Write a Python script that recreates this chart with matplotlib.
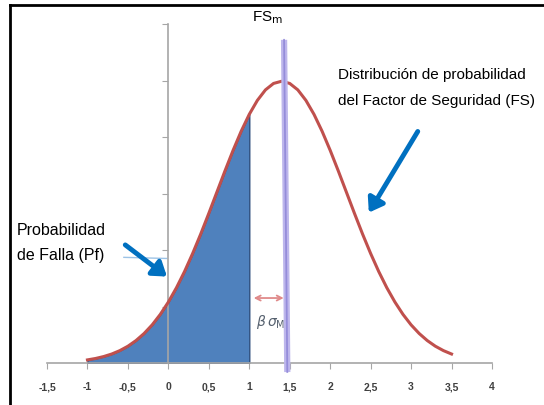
import numpy as np
import matplotlib
matplotlib.use("Agg")
import matplotlib.pyplot as plt
from matplotlib.lines import Line2D

plt.rcParams['font.family'] = ['Liberation Sans', 'DejaVu Sans']

# curva de distribucion del FS
x_fs = [-1.0, -0.9, -0.8, -0.7, -0.6, -0.5, -0.4, -0.3, -0.2, -0.1,
        0.0, 0.1, 0.2, 0.3, 0.4, 0.5, 0.6, 0.7, 0.8, 0.9,
        1.0, 1.1, 1.2, 1.3, 1.4, 1.5, 1.6, 1.7, 1.8, 1.9,
        2.0, 2.1, 2.2, 2.3, 2.4, 2.5, 2.6, 2.7, 2.8, 2.9,
        3.0, 3.1, 3.2, 3.3, 3.4, 3.5]
p_fs = [0.0055, 0.0080, 0.0114, 0.0159, 0.0219, 0.0297, 0.0397, 0.0522, 0.0675, 0.0860,
        0.1079, 0.1332, 0.1619, 0.1938, 0.2283, 0.2649, 0.3025, 0.3401, 0.3764, 0.4102,
        0.4401, 0.4648, 0.4834, 0.4948, 0.4987, 0.4948, 0.4834, 0.4648, 0.4401, 0.4102,
        0.3764, 0.3401, 0.3025, 0.2649, 0.2283, 0.1938, 0.1619, 0.1332, 0.1079, 0.0860,
        0.0675, 0.0522, 0.0397, 0.0297, 0.0219, 0.0159]
x_falla_max = 1.0   # limite de la zona de falla
fs_m = 1.45         # FS medio
x_ticks = [-1.5, -1, -0.5, 0, 0.5, 1, 1.5, 2, 2.5, 3, 3.5, 4]
x_labels = ['-1,5', '-1', '-0,5', '0', '0,5', '1', '1,5', '2', '2,5', '3', '3,5', '4']
y_ticks = [0, 0.1, 0.2, 0.3, 0.4, 0.5, 0.6]

x_fs = np.array(x_fs)
p_fs = np.array(p_fs)

fig = plt.figure(figsize=(5.44, 4.05), dpi=100)
ax = fig.add_axes([47/544, 42/405, 445/544, 339/405])

falla = x_fs <= x_falla_max
ax.fill_between(x_fs[falla], 0, p_fs[falla], facecolor='#4F81BD', edgecolor='#2F4F7F', lw=1, zorder=2)
ax.plot(x_fs, p_fs, color='#C0504D', lw=2.2, zorder=3)

# linea FS medio (ligeramente inclinada como en el original)
ax.plot([fs_m - 0.02, fs_m + 0.02], [0.572, -0.016], color='#BDB6EC', lw=4.5,
        solid_capstyle='butt', clip_on=False, zorder=4)
ax.plot([fs_m - 0.02, fs_m + 0.02], [0.572, -0.016], color='#8C83D6', lw=1.3, alpha=0.8,
        clip_on=False, zorder=5)
ax.text(fs_m - 0.23, 0.612, r'FS$_\mathrm{m}$', fontsize=11, ha='center', va='center', clip_on=False)

# beta sigma
ax.annotate('', xy=(fs_m + 0.01, 0.115), xytext=(x_falla_max + 0.02, 0.115),
            arrowprops=dict(arrowstyle='<->', color='#E08A8A', lw=1.3, mutation_scale=9))
ax.text(1.26, 0.072, r'$\beta\,\sigma_{\mathrm{M}}$', fontsize=10, color='#55606E',
        ha='center', va='center')

# anotaciones
ax.text(2.10, 0.51, 'Distribución de probabilidad', fontsize=11, ha='left', va='center', clip_on=False)
ax.text(2.10, 0.464, 'del Factor de Seguridad (FS)', fontsize=11, ha='left', va='center', clip_on=False)
ax.annotate('', xy=(2.46, 0.262), xytext=(3.10, 0.414),
            arrowprops=dict(arrowstyle='-|>,head_width=0.55,head_length=0.8', color='#0070C0', lw=3.5),
            annotation_clip=False)

ax.text(-1.875, 0.235, 'Probabilidad', fontsize=11.5, ha='left', va='center', clip_on=False)
ax.text(-1.875, 0.19, 'de Falla (Pf)', fontsize=11.5, ha='left', va='center', clip_on=False)
ax.plot([-0.55, -0.02], [0.187, 0.185], color='#9DC3E6', lw=1, clip_on=False)
ax.annotate('', xy=(0.01, 0.15), xytext=(-0.56, 0.212),
            arrowprops=dict(arrowstyle='-|>,head_width=0.55,head_length=0.8', color='#0070C0', lw=3.5),
            annotation_clip=False)

ax.set_xlim(-1.5, 4)
ax.set_ylim(0, 0.6)
ax.set_xticks(x_ticks)
ax.set_xticklabels(x_labels)
ax.set_yticks(y_ticks)
ax.set_yticklabels([])
for s in ['top', 'right']:
    ax.spines[s].set_visible(False)
ax.spines['left'].set_position(('data', 0))
ax.spines['left'].set_color('#A6A6A6')
ax.spines['bottom'].set_color('#A6A6A6')
ax.spines['left'].set_linewidth(1.2)
ax.spines['bottom'].set_linewidth(1.2)
ax.tick_params(axis='x', length=4, color='#A6A6A6', labelsize=7.5, labelcolor='#404040', pad=10)
ax.tick_params(axis='y', length=4, color='#A6A6A6')
for lab in ax.get_xticklabels():
    lab.set_fontweight('bold')

# marco negro del recorte
fig.add_artist(Line2D([10/544, 10/544], [0, 1 - 5/405], color='black', lw=2))
fig.add_artist(Line2D([10/544, 1], [1 - 5/405, 1 - 5/405], color='black', lw=2))

fig.savefig('out.png', dpi=100)
